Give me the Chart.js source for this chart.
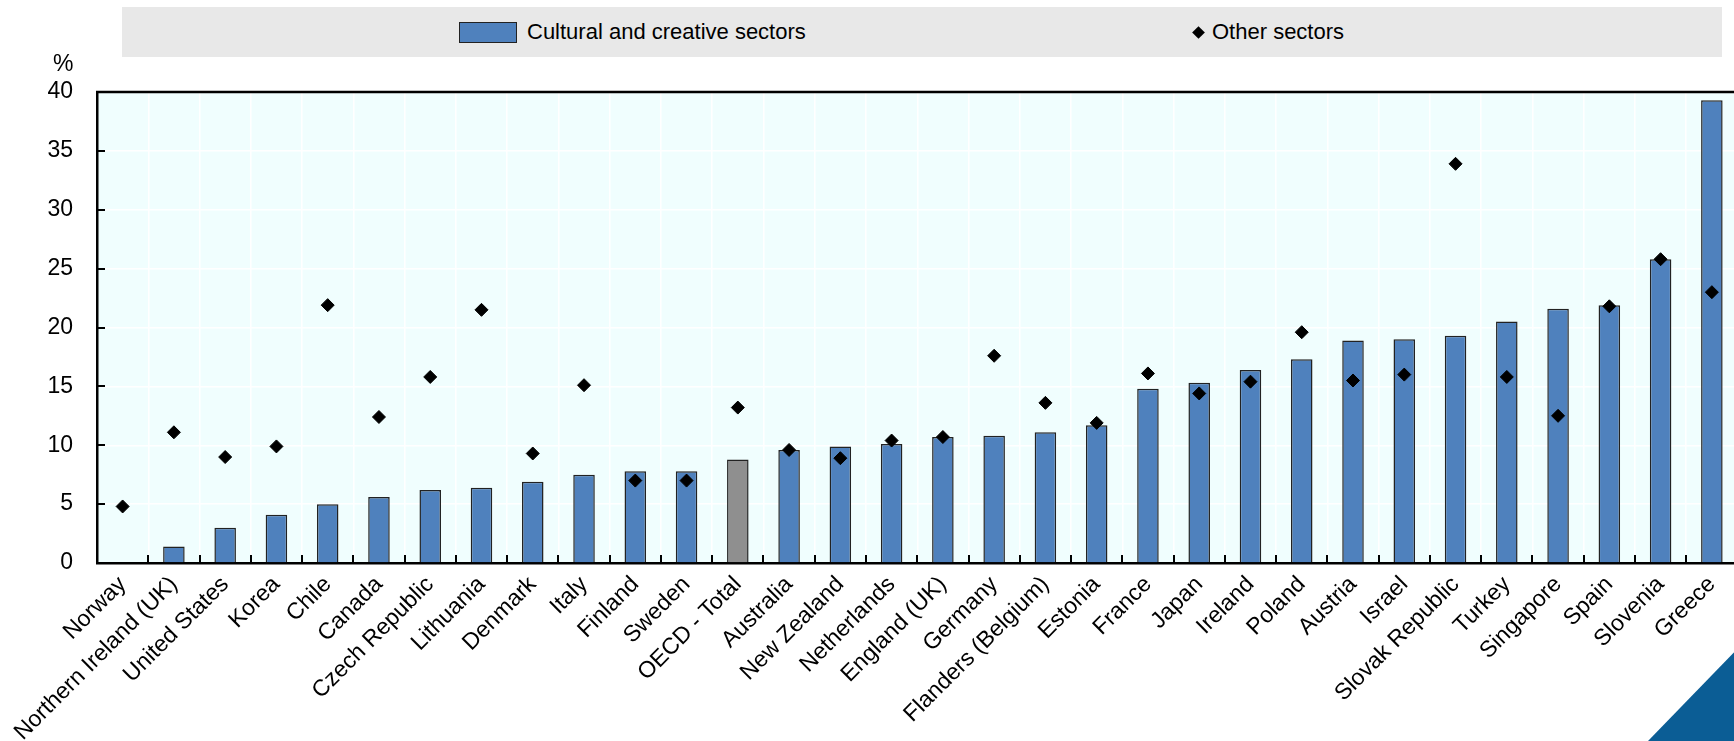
<!DOCTYPE html>
<html>
<head>
<meta charset="utf-8">
<script src="https://cdn.jsdelivr.net/npm/chart.js@4.4.0/dist/chart.umd.min.js"></script>
<style>
  html, body { margin: 0; padding: 0; background: #fff; overflow: hidden; }
  body { width: 1734px; height: 741px; position: relative; font-family: 'Liberation Sans', Arial, sans-serif; color: #000; }
  #chart { position: absolute; left: 0; top: 0; }
  .legend { position: absolute; left: 122px; top: 7px; width: 1600px; height: 50px; background: #e8e8e8; }
  .item { position: absolute; top: 0; height: 50px; display: flex; align-items: center; font-size: 22px; white-space: nowrap; }
  .swatch { width: 58px; height: 21px; box-sizing: border-box; border: 1.5px solid #222; background: #4f81bd; margin-right: 10px; }
  .diamond { width: 9px; height: 9px; background: #000; transform: rotate(45deg); margin: 0 9px 0 2px; }
  .unit { position: absolute; left: 53px; top: 52px; font-size: 23px; line-height: 23px; }
</style>
</head>
<body>
<canvas id="chart" width="1745" height="741"></canvas>
<div class="legend">
  <div class="item" style="left:337px"><span class="swatch"></span>Cultural and creative sectors</div>
  <div class="item" style="left:1070px"><span class="diamond"></span>Other sectors</div>
</div>
<div class="unit">%</div>
<script>
  const categories = [
    'Norway', 'Northern Ireland (UK)', 'United States', 'Korea', 'Chile', 'Canada',
    'Czech Republic', 'Lithuania', 'Denmark', 'Italy', 'Finland', 'Sweden',
    'OECD - Total', 'Australia', 'New Zealand', 'Netherlands', 'England (UK)', 'Germany',
    'Flanders (Belgium)', 'Estonia', 'France', 'Japan', 'Ireland', 'Poland',
    'Austria', 'Israel', 'Slovak Republic', 'Turkey', 'Singapore', 'Spain',
    'Slovenia', 'Greece'
  ];

  const culturalSectors = [
    null, 1.4, 3.0, 4.1, 5.0, 5.6,
    6.2, 6.4, 6.9, 7.5, 7.8, 7.8,
    8.8, 9.6, 9.9, 10.1, 10.7, 10.8,
    11.1, 11.7, 14.8, 15.3, 16.4, 17.3,
    18.9, 19.0, 19.3, 20.5, 21.6, 21.9,
    25.8, 39.3
  ];

  const otherSectors = [
    4.8, 11.1, 9.0, 9.9, 21.9, 12.4,
    15.8, 21.5, 9.3, 15.1, 7.0, 7.0,
    13.2, 9.6, 8.9, 10.4, 10.7, 17.6,
    13.6, 11.9, 16.1, 14.4, 15.4, 19.6,
    15.5, 16.0, 33.9, 15.8, 12.5, 21.8,
    25.8, 23.0
  ];

  const yTicks = [0, 5, 10, 15, 20, 25, 30, 35, 40];

  const barBlue = '#4f81bd';
  const barGrey = '#8f8f8f';
  const plotBg = '#f0fefe';
  const fontFamily = "'Liberation Sans', Arial, sans-serif";

  const barColors = categories.map((c) => (c === 'OECD - Total' ? barGrey : barBlue));

  // background, inward tick marks, top frame line and the corner mark
  const framePlugin = {
    id: 'frame',
    beforeDraw(chart) {
      const { ctx, chartArea: a } = chart;
      ctx.save();
      ctx.fillStyle = plotBg;
      ctx.fillRect(a.left, a.top, a.right - a.left, a.bottom - a.top);
      ctx.restore();
    },
    afterDraw(chart) {
      const { ctx, chartArea: a, scales } = chart;
      const xs = scales.x;
      const ys = scales.y;
      ctx.save();
      ctx.strokeStyle = '#000';
      ctx.lineWidth = 2;
      ctx.beginPath();
      for (let i = 1; i < categories.length; i++) {
        const x = Math.round((xs.getPixelForTick(i - 1) + xs.getPixelForTick(i)) / 2);
        ctx.moveTo(x, a.bottom);
        ctx.lineTo(x, a.bottom - 8);
      }
      yTicks.slice(1, -1).forEach((v) => {
        const y = Math.round(ys.getPixelForValue(v));
        ctx.moveTo(a.left, y);
        ctx.lineTo(a.left + 8, y);
      });
      ctx.stroke();

      ctx.lineWidth = 2.5;
      ctx.beginPath();
      ctx.moveTo(a.left - 1, a.top);
      ctx.lineTo(chart.width, a.top);
      ctx.stroke();

      ctx.fillStyle = '#0b5d95';
      ctx.beginPath();
      ctx.moveTo(1648, 741);
      ctx.lineTo(1745, 641);
      ctx.lineTo(1745, 741);
      ctx.closePath();
      ctx.fill();
      ctx.restore();
    }
  };

  new Chart(document.getElementById('chart'), {
    type: 'bar',
    data: {
      labels: categories,
      datasets: [
        {
          type: 'line',
          label: 'Other sectors',
          data: otherSectors,
          showLine: false,
          pointStyle: 'rectRot',
          pointRadius: 6.5,
          pointBackgroundColor: '#000',
          pointBorderColor: '#000',
          pointBorderWidth: 1,
          order: 1
        },
        {
          label: 'Cultural and creative sectors',
          data: culturalSectors,
          backgroundColor: barColors,
          borderColor: '#222',
          borderWidth: 1.5,
          categoryPercentage: 1,
          barPercentage: 0.42,
          order: 2
        }
      ]
    },
    options: {
      responsive: false,
      devicePixelRatio: 1,
      animation: false,
      layout: { padding: { top: 92, right: 4, left: 0, bottom: 0 } },
      plugins: {
        legend: { display: false },
        tooltip: { enabled: false }
      },
      scales: {
        x: {
          offset: true,
          grid: { color: '#ffffff', lineWidth: 1.5, offset: true, drawTicks: false },
          border: { color: '#000', width: 2.5 },
          ticks: {
            autoSkip: false,
            minRotation: 45,
            maxRotation: 45,
            padding: 8,
            color: '#000',
            font: { family: fontFamily, size: 23 }
          },
          afterFit(scale) { scale.height = 178; }
        },
        y: {
          min: 0,
          max: 40,
          grid: { color: '#ffffff', lineWidth: 1.5, drawTicks: false },
          border: { color: '#000', width: 2.5 },
          ticks: {
            stepSize: 5,
            padding: 24,
            color: '#000',
            font: { family: fontFamily, size: 23 }
          },
          afterFit(scale) { scale.width = 97; }
        }
      }
    },
    plugins: [framePlugin]
  });
</script>
</body>
</html>
